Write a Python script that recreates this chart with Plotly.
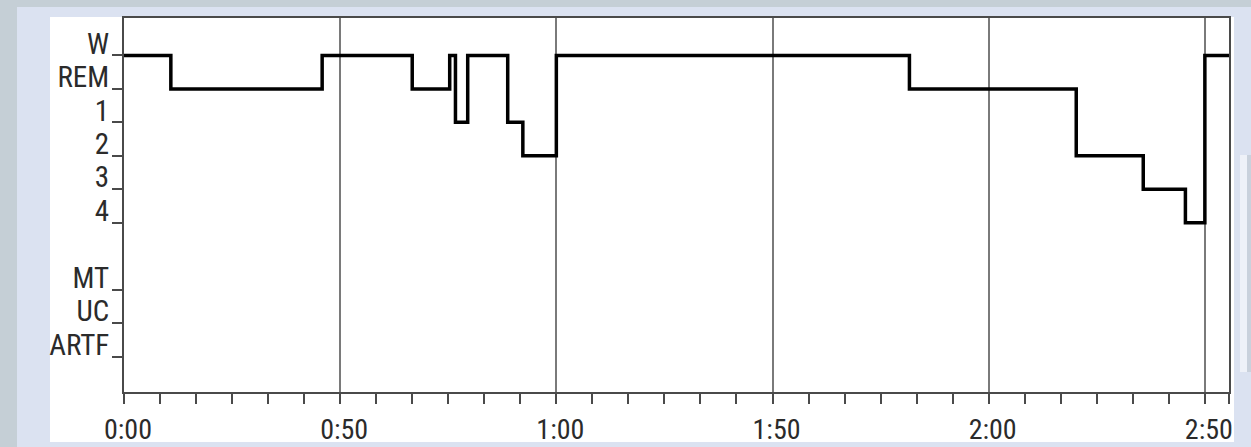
import plotly.graph_objects as go

# Sleep-stage hypnogram: stage changes over the recording (time in minutes)
stage_names = ["W", "REM", "1", "2", "3", "4", "MT", "UC", "ARTF"]
stage_levels = [0, 1, 2, 3, 4, 5, 7, 8, 9]

change_times = [0, 13, 55, 80, 90.4, 92, 95.4, 106.5, 110.7, 120,
                218, 264.3, 282.9, 294.6, 300, 306.7]
change_stages = ["W", "REM", "W", "REM", "W", "1", "W", "1", "2", "W",
                 "REM", "2", "3", "4", "W", "W"]

tick_times = [0, 60, 120, 180, 240, 300, 306.7]
tick_labels = ["0:00", "0:50", "1:00", "1:50", "2:00", "2:50", ""]

level_of = dict(zip(stage_names, stage_levels))
y_vals = [level_of[s] for s in change_stages]

FONT = "Liberation Sans Narrow, Arial Narrow, Roboto Condensed, Roboto, sans-serif"
AXIS = "#4a4a4a"

fig = go.Figure()
fig.add_trace(go.Scatter(
    x=change_times, y=y_vals, mode="lines",
    line=dict(shape="hv", color="#000000", width=3.5),
    hoverinfo="skip", showlegend=False,
))

W, H = 1251, 447
L, R, T, B = 124, 22, 18, 55
pw, ph = W - L - R, H - T - B


def px_x(v):
    return (v - L) / pw


def px_y(v):
    return (H - B - v) / ph


shapes = [
    dict(type="rect", xref="paper", yref="paper", layer="below",
         x0=px_x(17), x1=px_x(W), y0=px_y(H), y1=px_y(7),
         fillcolor="#dbe2f1", line=dict(width=0)),
    dict(type="rect", xref="paper", yref="paper", layer="below",
         x0=px_x(1247), x1=px_x(1251), y0=px_y(372), y1=px_y(155),
         fillcolor="#c9d1dc", line=dict(width=0)),
    dict(type="rect", xref="paper", yref="paper", layer="below",
         x0=px_x(1240), x1=px_x(1247), y0=px_y(372), y1=px_y(155),
         fillcolor="#eef1f8", line=dict(width=0)),
    dict(type="rect", xref="paper", yref="paper", layer="below",
         x0=px_x(50), x1=px_x(1234), y0=px_y(442), y1=px_y(17),
         fillcolor="#ffffff", line=dict(width=0)),
]

fig.update_layout(
    width=W, height=H,
    margin=dict(l=L, r=R, t=T, b=B, pad=0, autoexpand=False),
    paper_bgcolor="#c5cfd6",
    plot_bgcolor="#ffffff",
    shapes=shapes,
    font=dict(family=FONT, size=28, color="#2b2b2b"),
    xaxis=dict(
        range=[0, 306.7],
        automargin=False,
        tickvals=tick_times, ticktext=tick_labels,
        showgrid=True, gridcolor="#7a7a7a", gridwidth=1.5,
        zeroline=False,
        showline=True, linecolor=AXIS, linewidth=2, mirror=True,
        ticks="outside", ticklen=10, tickwidth=2, tickcolor=AXIS,
        tickfont=dict(size=28),
        ticklabelstandoff=1,
        ticklabelshift=4,
        minor=dict(dtick=10, tick0=0, ticks="outside", ticklen=10,
                   tickwidth=2, tickcolor=AXIS, showgrid=False),
    ),
    yaxis=dict(
        range=[10.06, -1.12],
        automargin=False,
        tickvals=stage_levels, ticktext=stage_names,
        showgrid=False, zeroline=False,
        showline=True, linecolor=AXIS, linewidth=2, mirror=True,
        ticks="outside", ticklen=10, tickwidth=1.5, tickcolor=AXIS,
        tickfont=dict(size=29),
        ticklabelshift=12,
        ticklabelstandoff=-3,
    ),
)

fig.write_html("out.html")
